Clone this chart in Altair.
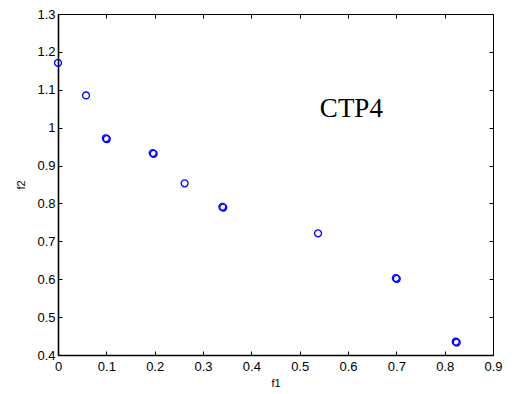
import altair as alt
import pandas as pd

# Pareto-front samples (f1, f2); doubled markers are near-coincident solutions
f1 = [0.000, 0.058, 0.099, 0.101, 0.196, 0.198, 0.262, 0.340, 0.342, 0.538, 0.699, 0.701, 0.823, 0.825]
f2 = [1.171, 1.085, 0.972, 0.970, 0.933, 0.931, 0.853, 0.791, 0.789, 0.721, 0.603, 0.601, 0.435, 0.433]

x_ticks = [0, 0.1, 0.2, 0.3, 0.4, 0.5, 0.6, 0.7, 0.8, 0.9]
y_ticks = [0.4, 0.5, 0.6, 0.7, 0.8, 0.9, 1.0, 1.1, 1.2, 1.3]

label_text = ["CTP4"]
label_f1 = [0.607]
label_f2 = [1.05]

W, H = 435, 341
FONT = "Liberation Sans"

df = pd.DataFrame({"f1": f1, "f2": f2})
lab = pd.DataFrame({"f1": label_f1, "f2": label_f2, "t": label_text})

xs = alt.Scale(domain=[0, 0.9], nice=False, zero=False)
ys = alt.Scale(domain=[0.4, 1.3], nice=False, zero=False)

# MATLAB-style labels: integers without a decimal part
label_expr = "abs(datum.value - round(datum.value)) < 1e-9 ? format(datum.value, 'd') : format(datum.value, '.1f')"

common = dict(labelFont=FONT, labelFontSize=13, labelColor="black",
              titleFont=FONT, titleFontSize=11, titleColor="black",
              titleFontWeight="normal", grid=False, labelExpr=label_expr)

# labelled bottom/left axes with the heavier frame lines
points = alt.Chart(df).mark_point(
    shape="circle", filled=False, color="#0000ff", size=48, strokeWidth=1.3, opacity=1
).encode(
    x=alt.X("f1:Q", scale=xs, axis=alt.Axis(
        orient="bottom", values=x_ticks, ticks=False, tickSize=0, labelPadding=5,
        domain=True, domainColor="black", domainWidth=1.6, labelFlush=False,
        title="f1", titleX=W / 2, titleY=28, titleBaseline="middle", **common)),
    y=alt.Y("f2:Q", scale=ys, axis=alt.Axis(
        orient="left", values=y_ticks, ticks=False, tickSize=0, labelPadding=3,
        domain=True, domainColor="black", domainWidth=1.6,
        labelFlush=False, title="f2", titleX=-37, titleY=H / 2, titleAngle=-90,
        titleBaseline="middle", titleAlign="center", **common)),
)

# inward tick marks on all four sides
tick_axis = dict(ticks=True, tickSize=4, tickColor="black", tickWidth=1,
                 labels=False, domain=False, title=None, offset=-4, grid=False)

ticks_bl = alt.Chart(df).mark_point(opacity=0).encode(
    x=alt.X("f1:Q", scale=xs, axis=alt.Axis(orient="bottom", values=x_ticks, **tick_axis)),
    y=alt.Y("f2:Q", scale=ys, axis=alt.Axis(orient="left", values=y_ticks, **tick_axis)),
)
ticks_tr = alt.Chart(df).mark_point(opacity=0).encode(
    x=alt.X("f1:Q", scale=xs, axis=alt.Axis(orient="top", values=x_ticks, **tick_axis)),
    y=alt.Y("f2:Q", scale=ys, axis=alt.Axis(orient="right", values=y_ticks, **tick_axis)),
)

label = alt.Chart(lab).mark_text(
    font="Liberation Serif", fontSize=27, color="black", align="center", baseline="middle"
).encode(
    x=alt.X("f1:Q", scale=xs, axis=None),
    y=alt.Y("f2:Q", scale=ys, axis=None),
    text="t:N",
)

chart = alt.layer(points, ticks_bl, ticks_tr, label).resolve_axis(
    x="independent", y="independent"
).properties(
    width=W, height=H,
    padding={"left": 58, "top": 14, "right": 21, "bottom": 39},
    autosize=alt.AutoSizeParams(type="none"),
    background="white",
).configure_view(stroke="black", strokeWidth=1)

chart.save("out.html", embed_options={"renderer": "svg", "actions": False})
